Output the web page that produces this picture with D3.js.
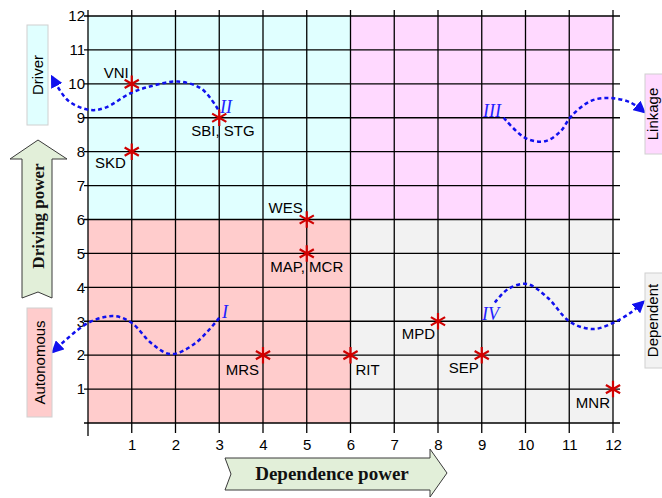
<!DOCTYPE html>
<html><head><meta charset="utf-8">
<script src="https://cdn.jsdelivr.net/npm/d3@7"></script>
<style>
body{margin:0;background:#fff;}
svg{display:block;}
</style></head>
<body>
<svg id="chart" width="662" height="498"></svg>
<script>
// ---- data ----
const xTicks = [1,2,3,4,5,6,7,8,9,10,11,12];
const yTicks = [1,2,3,4,5,6,7,8,9,10,11,12];
const pointLabels = ["VNI","SBI, STG","SKD","WES","MAP, MCR","MRS","RIT","MPD","SEP","MNR"];
const dependence = [1,3,1,5,5,4,6,8,9,12];
const driving    = [10,9,8,6,5,2,2,3,2,1];
const quadrantNames = ["I","II","III","IV"];
const quadrantCategories = ["Autonomous","Driver","Linkage","Dependent"];
// decorative curves (data units)
const curveI   = [[3,3.1],[2.45,2.35],[1.9,2.03],[1.45,2.35],[1,2.95],[0.6,3.15],[0,2.95],[-0.8,2.1]];
const curveII  = [[2.97,9.25],[2.6,9.85],[2.05,10.07],[1.5,9.95],[0.98,9.73],[0.4,9.3],[0.05,9.23],[-0.45,9.5],[-0.82,10.2]];
const curveIII = [[9.5,9.0],[10.0,8.4],[10.45,8.31],[10.8,8.6],[11.05,9.05],[11.5,9.5],[11.95,9.58],[12.4,9.45],[12.71,9.17]];
const curveIV  = [[9.3,3.55],[9.6,3.95],[10.03,4.1],[10.5,3.7],[11.02,2.98],[11.55,2.77],[12.0,2.95],[12.4,3.25],[12.69,3.57]];

// ---- layout ----
const svg = d3.select("#chart");
const x = d3.scaleLinear().domain([0,12]).range([88,613]);
const y = d3.scaleLinear().domain([0,12]).range([423,16]);
const FONT = "'Liberation Sans', Arial, sans-serif";
const SERIF = "'Liberation Serif', 'DejaVu Serif', serif";

// defs: arrowhead
const defs = svg.append("defs");
defs.append("marker").attr("id","arr").attr("viewBox","0 0 10 10").attr("refX",8).attr("refY",5)
  .attr("markerWidth",5).attr("markerHeight",5).attr("orient","auto")
  .append("path").attr("d","M0,0 L10,5 L0,10 z").attr("fill","#1010ee");

// quadrant backgrounds
const quads = [
  {x0:0,x1:6,y0:6,y1:12,c:"#e0ffff"},
  {x0:6,x1:12,y0:6,y1:12,c:"#ffd9ff"},
  {x0:0,x1:6,y0:0,y1:6,c:"#ffcccc"},
  {x0:6,x1:12,y0:0,y1:6,c:"#f2f2f2"}
];
svg.append("g").selectAll("rect").data(quads).join("rect")
  .attr("x",d=>x(d.x0)).attr("y",d=>y(d.y1))
  .attr("width",d=>x(d.x1)-x(d.x0)).attr("height",d=>y(d.y0)-y(d.y1))
  .attr("fill",d=>d.c);

// grid
const grid = svg.append("g").attr("stroke","#000").attr("stroke-width",1.3);
grid.selectAll("line.h").data(d3.range(0,13)).join("line").attr("class","h")
  .attr("x1",84).attr("x2",620).attr("y1",d=>y(d)).attr("y2",d=>y(d));
grid.selectAll("line.v").data(d3.range(1,13)).join("line").attr("class","v")
  .attr("x1",d=>x(d)).attr("x2",d=>x(d)).attr("y1",10).attr("y2",433);
grid.append("line").attr("x1",x(0)).attr("x2",x(0)).attr("y1",10).attr("y2",436);

// axes (labels)
const ax = svg.append("g").attr("transform",`translate(0,${y(0)})`)
  .call(d3.axisBottom(x).tickValues(xTicks).tickSize(0).tickPadding(16).tickFormat(d3.format("d")));
ax.select(".domain").remove();
ax.selectAll("text").attr("font-family",FONT).attr("font-size",15).attr("fill","#000");
const ay = svg.append("g").attr("transform",`translate(${x(0)},0)`)
  .call(d3.axisLeft(y).tickValues(yTicks).tickSize(0).tickPadding(3).tickFormat(d3.format("d")));
ay.select(".domain").remove();
ay.selectAll("text").attr("font-family",FONT).attr("font-size",15).attr("fill","#000");

// curves
const line = d3.line().x(d=>x(d[0])).y(d=>y(d[1])).curve(d3.curveCatmullRom.alpha(0.5));
[curveI,curveII,curveIII,curveIV].forEach(c=>{
  svg.append("path").attr("d",line(c)).attr("fill","none").attr("stroke","#1010ee")
    .attr("stroke-width",2.5).attr("stroke-dasharray","4,3").attr("marker-end","url(#arr)");
});

// quadrant numerals
const numPos = [[222,318],[220,113],[483,117],[482,320]];
svg.append("g").selectAll("text").data(quadrantNames).join("text")
  .attr("x",(d,i)=>numPos[i][0]).attr("y",(d,i)=>numPos[i][1])
  .attr("font-family",SERIF).attr("font-style","italic").attr("font-size",18).attr("fill","#2020ff")
  .text(d=>d);

// points
const pts = pointLabels.map((l,i)=>({l,x:dependence[i],y:driving[i]}));
svg.append("g").selectAll("path").data(pts).join("path")
  .attr("transform",d=>`translate(${x(d.x)},${y(d.y)})`)
  .attr("d",d3.symbol(d3.symbolAsterisk,190)())
  .attr("stroke","#d00000").attr("stroke-width",2.2).attr("fill","none");

// point labels: [dx, dy, anchor]
const place = {
  "VNI":[-3,-6,"end"], "SBI, STG":[-28,18,"start"], "SKD":[-6,16,"end"],
  "WES":[-4,-7,"end"], "MAP, MCR":[0,19,"middle"], "MRS":[-4,20,"end"],
  "RIT":[5,20,"start"], "MPD":[-3,18,"end"], "SEP":[-3,18,"end"], "MNR":[-3,19,"end"]
};
svg.append("g").selectAll("text").data(pts).join("text")
  .attr("x",d=>x(d.x)+place[d.l][0]).attr("y",d=>y(d.y)+place[d.l][1])
  .attr("text-anchor",d=>place[d.l][2])
  .attr("font-family",FONT).attr("font-size",15).attr("fill","#000")
  .text(d=>d.l);

// category side boxes
const boxes = [
  {t:quadrantCategories[1],x:27,y:25,w:21,h:100,c:"#e0ffff",cx:38},
  {t:quadrantCategories[0],x:27,y:308,w:25,h:109,c:"#ffcccc",cx:40},
  {t:quadrantCategories[2],x:645,y:74,w:30,h:80,c:"#ffd9ff",cx:653},
  {t:quadrantCategories[3],x:645,y:273,w:30,h:95,c:"#f2f2f2",cx:653}
];
const bg = svg.append("g");
bg.selectAll("rect").data(boxes).join("rect")
  .attr("x",d=>d.x).attr("y",d=>d.y).attr("width",d=>d.w).attr("height",d=>d.h)
  .attr("fill",d=>d.c).attr("stroke","#d0d0d0").attr("stroke-width",1);
bg.selectAll("text").data(boxes).join("text")
  .attr("transform",d=>`translate(${d.cx},${d.y+d.h/2}) rotate(-90)`)
  .attr("text-anchor","middle").attr("dy","0.35em")
  .attr("font-family",FONT).attr("font-size",15).attr("fill","#000")
  .text(d=>d.t);

// big arrows
const arrowFill = "#e2efd9", arrowStroke = "#3a3a3a";
svg.append("path")
  .attr("d","M38,140 L67,159 L52,159 L52,298 L38,292 L22,298 L22,159 L10,159 Z")
  .attr("fill",arrowFill).attr("stroke",arrowStroke).attr("stroke-width",1);
svg.append("text").attr("transform","translate(38,216) rotate(-90)")
  .attr("text-anchor","middle").attr("dy","0.35em")
  .attr("font-family",SERIF).attr("font-weight","bold").attr("font-size",17).attr("fill","#111")
  .text("Driving power");
svg.append("path")
  .attr("d","M225,458 L430,458 L430,449 L447,473 L430,497 L430,490 L225,490 L231,474 Z")
  .attr("fill",arrowFill).attr("stroke",arrowStroke).attr("stroke-width",1);
svg.append("text").attr("x",332).attr("y",480)
  .attr("text-anchor","middle")
  .attr("font-family",SERIF).attr("font-weight","bold").attr("font-size",19).attr("fill","#111")
  .text("Dependence power");
</script>
</body></html>
